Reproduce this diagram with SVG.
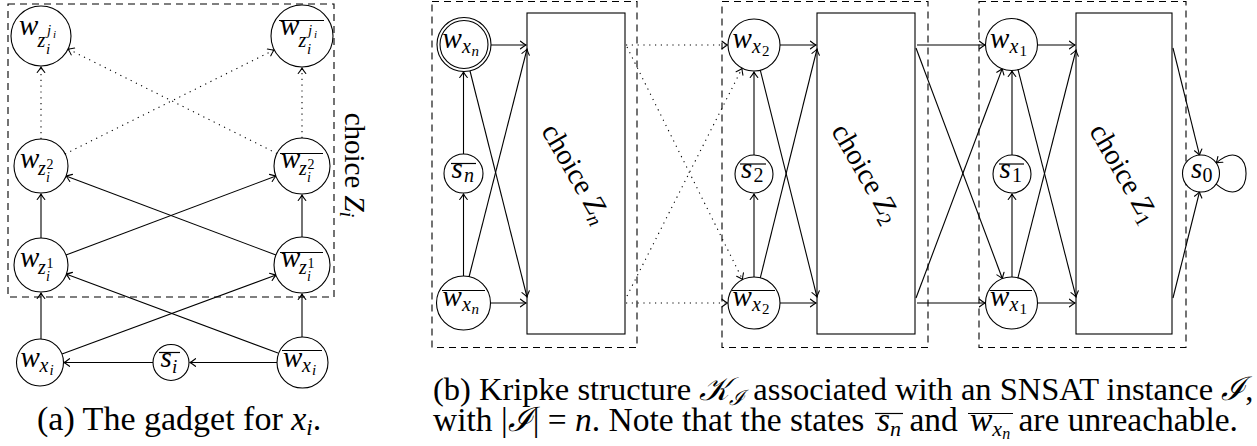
<svg xmlns="http://www.w3.org/2000/svg" width="1257" height="446" viewBox="0 0 1257 446">
<style>
.nd { fill: #fff; stroke: #000; stroke-width: 1.1; }
.rc { fill: #fff; stroke: #000; stroke-width: 1.1; }
.box { fill: none; stroke: #000; stroke-width: 1.1; stroke-dasharray: 7 5; }
.e { fill: none; stroke: #000; stroke-width: 1.1; marker-end: url(#ah); }
.d { stroke-dasharray: 1.2 4.6; }
.ol { stroke: #000; stroke-width: 1.2; }
</style>
<defs>
<marker id="ah" markerUnits="userSpaceOnUse" markerWidth="9" markerHeight="12" viewBox="-7 -6 9 12" refX="0" refY="0" orient="auto">
<path d="M-5.5,-3.8 Q-2,-1 0,0 Q-2,1 -5.5,3.8" fill="none" stroke="#000" stroke-width="1.1" stroke-linecap="round"/>
</marker>
</defs>

<rect class="box" x="8" y="4" width="326" height="293"/>
<g id="connectors-a">
<line class="e" x1="41" y1="339" x2="41" y2="293"/>
<line class="e" x1="302" y1="337" x2="302" y2="294"/>
<line class="e" x1="62" y1="354" x2="276" y2="275"/>
<line class="e" x1="278" y1="353" x2="66" y2="274"/>
<line class="e" x1="277" y1="362.5" x2="190" y2="362.5"/>
<line class="e" x1="153" y1="362.5" x2="64" y2="362.5"/>
<line class="e" x1="41" y1="238" x2="41" y2="194"/>
<line class="e" x1="302" y1="237" x2="302" y2="195"/>
<line class="e" x1="66" y1="255" x2="276" y2="176"/>
<line class="e" x1="276" y1="255" x2="66" y2="176"/>
<line class="e d" x1="41" y1="139" x2="41" y2="67"/>
<line class="e d" x1="302" y1="138" x2="302" y2="68"/>
<line class="e d" x1="65" y1="154" x2="274" y2="50"/>
<line class="e d" x1="277" y1="153.5" x2="68" y2="49"/>
</g>
<g id="a-wzj">
<circle class="nd" cx="41" cy="36" r="30"/>
<text style="font-family:'Liberation Serif',serif;font-style:italic;font-size:29px" x="19" y="35">w</text>
<text style="font-family:'Liberation Serif',serif;font-style:italic;font-size:20px" x="37.5" y="47">z</text>
<text style="font-family:'Liberation Serif',serif;font-style:italic;font-size:15px" x="47" y="35">j</text>
<text style="font-family:'Liberation Serif',serif;font-style:italic;font-size:11px" x="53" y="38">i</text>
<text style="font-family:'Liberation Serif',serif;font-style:italic;font-size:15px" x="46" y="54">i</text>
</g>
<g id="a-wzj-bar">
<circle class="nd" cx="302" cy="36" r="31"/>
<line class="ol" x1="279" y1="20.5" x2="324" y2="20.5"/>
<text style="font-family:'Liberation Serif',serif;font-style:italic;font-size:29px" x="280" y="35">w</text>
<text style="font-family:'Liberation Serif',serif;font-style:italic;font-size:20px" x="298.5" y="47">z</text>
<text style="font-family:'Liberation Serif',serif;font-style:italic;font-size:15px" x="308" y="35">j</text>
<text style="font-family:'Liberation Serif',serif;font-style:italic;font-size:11px" x="314" y="38">i</text>
<text style="font-family:'Liberation Serif',serif;font-style:italic;font-size:15px" x="307" y="54">i</text>
</g>
<g id="a-wz2">
<circle class="nd" cx="41" cy="166" r="27"/>
<text style="font-family:'Liberation Serif',serif;font-style:italic;font-size:29px" x="20" y="168">w</text>
<text style="font-family:'Liberation Serif',serif;font-style:italic;font-size:20px" x="38" y="175">z</text>
<text style="font-family:'Liberation Serif',serif;font-size:14px" x="46.5" y="169">2</text>
<text style="font-family:'Liberation Serif',serif;font-style:italic;font-size:14px" x="46" y="182">i</text>
</g>
<g id="a-wz2-bar">
<circle class="nd" cx="302" cy="166" r="28"/>
<line class="ol" x1="280" y1="153.5" x2="323" y2="153.5"/>
<text style="font-family:'Liberation Serif',serif;font-style:italic;font-size:29px" x="281" y="168">w</text>
<text style="font-family:'Liberation Serif',serif;font-style:italic;font-size:20px" x="299" y="175">z</text>
<text style="font-family:'Liberation Serif',serif;font-size:14px" x="307.5" y="169">2</text>
<text style="font-family:'Liberation Serif',serif;font-style:italic;font-size:14px" x="307" y="182">i</text>
</g>
<g id="a-wz1">
<circle class="nd" cx="41" cy="265" r="27"/>
<text style="font-family:'Liberation Serif',serif;font-style:italic;font-size:29px" x="20" y="267">w</text>
<text style="font-family:'Liberation Serif',serif;font-style:italic;font-size:20px" x="38" y="274">z</text>
<text style="font-family:'Liberation Serif',serif;font-size:14px" x="46.5" y="268">1</text>
<text style="font-family:'Liberation Serif',serif;font-style:italic;font-size:14px" x="46" y="281">i</text>
</g>
<g id="a-wz1-bar">
<circle class="nd" cx="302" cy="265" r="28"/>
<line class="ol" x1="280" y1="252.5" x2="323" y2="252.5"/>
<text style="font-family:'Liberation Serif',serif;font-style:italic;font-size:29px" x="281" y="267">w</text>
<text style="font-family:'Liberation Serif',serif;font-style:italic;font-size:20px" x="299" y="274">z</text>
<text style="font-family:'Liberation Serif',serif;font-size:14px" x="307.5" y="268">1</text>
<text style="font-family:'Liberation Serif',serif;font-style:italic;font-size:14px" x="307" y="281">i</text>
</g>
<g id="a-wx">
<circle class="nd" cx="40" cy="362.5" r="23.5"/>
<text style="font-family:'Liberation Serif',serif;font-style:italic;font-size:29px" x="20.5" y="367">w</text>
<text style="font-family:'Liberation Serif',serif;font-style:italic;font-size:20px" x="39.5" y="372">x</text>
<text style="font-family:'Liberation Serif',serif;font-style:italic;font-size:15px" x="49.5" y="375">i</text>
</g>
<g id="a-wx-bar">
<circle class="nd" cx="302.5" cy="362.5" r="25.5"/>
<line class="ol" x1="282" y1="350.5" x2="322" y2="350.5"/>
<text style="font-family:'Liberation Serif',serif;font-style:italic;font-size:29px" x="283" y="367">w</text>
<text style="font-family:'Liberation Serif',serif;font-style:italic;font-size:20px" x="302" y="372">x</text>
<text style="font-family:'Liberation Serif',serif;font-style:italic;font-size:15px" x="312" y="375">i</text>
</g>
<g id="a-s">
<circle class="nd" cx="171" cy="362.5" r="18"/>
<line class="ol" x1="159" y1="352.5" x2="180" y2="352.5"/>
<text style="font-family:'Liberation Serif',serif;font-style:italic;font-size:29px" x="160.5" y="367">s</text>
<text style="font-family:'Liberation Serif',serif;font-style:italic;font-size:19px" x="172" y="373">i</text>
</g>
<text id="a-choice" style="font-family:'Liberation Serif',serif;font-size:29px" transform="translate(345,165) rotate(90)" text-anchor="middle">choice <tspan style="font-style:italic">Z</tspan><tspan style="font-style:italic;font-size:20px" dy="5">i</tspan></text>
<text id="cap-a" style="font-family:'Liberation Serif',serif;font-size:34px" x="37" y="430">(a) The gadget for <tspan style="font-style:italic">x</tspan><tspan style="font-style:italic;font-size:23px" dy="5">i</tspan><tspan dy="-5">.</tspan></text>

<rect class="box" x="432" y="1.5" width="205" height="346"/>
<rect class="box" x="722" y="1.5" width="206" height="346"/>
<rect class="box" x="979" y="1.5" width="207" height="346"/>

<g id="rect-zn"><rect class="rc" x="527" y="13" width="98" height="321"/>
<text style="font-family:'Liberation Serif',serif;font-size:29px" transform="translate(568,178) rotate(60)" text-anchor="middle">choice <tspan style="font-style:italic">Z</tspan><tspan style="font-style:italic;font-size:20px" dy="5">n</tspan></text></g>
<g id="rect-z2"><rect class="rc" x="817" y="13" width="98" height="321"/>
<text style="font-family:'Liberation Serif',serif;font-size:29px" transform="translate(858,178) rotate(60)" text-anchor="middle">choice <tspan style="font-style:italic">Z</tspan><tspan style="font-size:20px" dy="5">2</tspan></text></g>
<g id="rect-z1"><rect class="rc" x="1076" y="13" width="96" height="321"/>
<text style="font-family:'Liberation Serif',serif;font-size:29px" transform="translate(1116,178) rotate(60)" text-anchor="middle">choice <tspan style="font-style:italic">Z</tspan><tspan style="font-size:20px" dy="5">1</tspan></text></g>

<g id="connectors-b">
<line class="e" x1="491" y1="45" x2="526" y2="45"/>
<line class="e" x1="490.5" y1="303" x2="526" y2="303"/>
<line class="e" x1="470" y1="71" x2="527" y2="297"/>
<line class="e" x1="469" y1="277" x2="527" y2="49"/>
<line class="e" x1="463.5" y1="276" x2="463.5" y2="194"/>
<line class="e" x1="463.5" y1="154" x2="463.5" y2="72"/>
<line class="e d" x1="626" y1="45" x2="727.5" y2="45"/>
<line class="e d" x1="627" y1="47" x2="742.5" y2="279.5"/>
<line class="e d" x1="627" y1="296" x2="742" y2="68.5"/>
<line class="e d" x1="626" y1="303" x2="727.5" y2="303"/>
<line class="e" x1="780" y1="45" x2="816" y2="45"/>
<line class="e" x1="780" y1="303" x2="816" y2="303"/>
<line class="e" x1="760.3" y1="70.2" x2="817" y2="297"/>
<line class="e" x1="760.3" y1="277.8" x2="817" y2="49"/>
<line class="e" x1="754" y1="277" x2="754" y2="194"/>
<line class="e" x1="754" y1="155" x2="754" y2="72"/>
<line class="e" x1="917" y1="45" x2="985" y2="45"/>
<line class="e" x1="916" y1="48" x2="1002.4" y2="278.7"/>
<line class="e" x1="916" y1="298" x2="1002.3" y2="68.5"/>
<line class="e" x1="917" y1="303" x2="985" y2="303"/>
<line class="e" x1="1037.5" y1="45" x2="1075" y2="45"/>
<line class="e" x1="1037.5" y1="303" x2="1075" y2="303"/>
<line class="e" x1="1017.9" y1="69.2" x2="1076" y2="297"/>
<line class="e" x1="1017.9" y1="277.8" x2="1076" y2="50"/>
<line class="e" x1="1012" y1="277" x2="1012" y2="194"/>
<line class="e" x1="1012" y1="155" x2="1012" y2="71"/>
<line class="e" x1="1173" y1="48" x2="1199.5" y2="155.2"/>
<line class="e" x1="1173" y1="298" x2="1199.5" y2="191.8"/>
<path class="e" d="M1216.2,184.1 C1256,218 1256,129 1216.2,162.9"/>
</g>

<g id="b-wxn">
<circle class="nd" cx="464" cy="44.5" r="27"/>
<circle class="nd" cx="464" cy="44.5" r="24"/>
<text style="font-family:'Liberation Serif',serif;font-style:italic;font-size:29px" x="442.5" y="48">w</text>
<text style="font-family:'Liberation Serif',serif;font-style:italic;font-size:20px" x="462" y="53">x</text>
<text style="font-family:'Liberation Serif',serif;font-style:italic;font-size:15px" x="471.5" y="56">n</text>
</g>
<g id="b-sn">
<circle class="nd" cx="463.5" cy="173.5" r="19.5"/>
<line class="ol" x1="451" y1="163.5" x2="476" y2="163.5"/>
<text style="font-family:'Liberation Serif',serif;font-style:italic;font-size:29px" x="451.5" y="178">s</text>
<text style="font-family:'Liberation Serif',serif;font-style:italic;font-size:20px" x="464" y="182">n</text>
</g>
<g id="b-wxn-bar">
<circle class="nd" cx="463.5" cy="303" r="27"/>
<line class="ol" x1="442" y1="290.5" x2="485" y2="290.5"/>
<text style="font-family:'Liberation Serif',serif;font-style:italic;font-size:29px" x="442.5" y="306">w</text>
<text style="font-family:'Liberation Serif',serif;font-style:italic;font-size:20px" x="462" y="311">x</text>
<text style="font-family:'Liberation Serif',serif;font-style:italic;font-size:15px" x="471.5" y="314">n</text>
</g>
<g id="b-wx2">
<circle class="nd" cx="754" cy="45" r="26"/>
<text style="font-family:'Liberation Serif',serif;font-style:italic;font-size:29px" x="732.5" y="48">w</text>
<text style="font-family:'Liberation Serif',serif;font-style:italic;font-size:20px" x="752" y="53">x</text>
<text style="font-family:'Liberation Serif',serif;font-size:15px" x="762" y="56">2</text>
</g>
<g id="b-s2">
<circle class="nd" cx="754" cy="174" r="19"/>
<line class="ol" x1="740" y1="164" x2="766" y2="164"/>
<text style="font-family:'Liberation Serif',serif;font-style:italic;font-size:29px" x="741" y="178">s</text>
<text style="font-family:'Liberation Serif',serif;font-size:20px" x="753.5" y="182">2</text>
</g>
<g id="b-wx2-bar">
<circle class="nd" cx="754" cy="303" r="26"/>
<line class="ol" x1="732" y1="290.5" x2="775" y2="290.5"/>
<text style="font-family:'Liberation Serif',serif;font-style:italic;font-size:29px" x="732.5" y="306">w</text>
<text style="font-family:'Liberation Serif',serif;font-style:italic;font-size:20px" x="752" y="311">x</text>
<text style="font-family:'Liberation Serif',serif;font-size:15px" x="762" y="314">2</text>
</g>
<g id="b-wx1">
<circle class="nd" cx="1011.5" cy="44.5" r="26"/>
<text style="font-family:'Liberation Serif',serif;font-style:italic;font-size:29px" x="990" y="48">w</text>
<text style="font-family:'Liberation Serif',serif;font-style:italic;font-size:20px" x="1009.5" y="53">x</text>
<text style="font-family:'Liberation Serif',serif;font-size:15px" x="1019.5" y="56">1</text>
</g>
<g id="b-s1">
<circle class="nd" cx="1012" cy="174" r="19"/>
<line class="ol" x1="999" y1="164" x2="1024" y2="164"/>
<text style="font-family:'Liberation Serif',serif;font-style:italic;font-size:29px" x="999.5" y="178">s</text>
<text style="font-family:'Liberation Serif',serif;font-size:20px" x="1012" y="182">1</text>
</g>
<g id="b-wx1-bar">
<circle class="nd" cx="1011.5" cy="303" r="26"/>
<line class="ol" x1="989.5" y1="290.5" x2="1032" y2="290.5"/>
<text style="font-family:'Liberation Serif',serif;font-style:italic;font-size:29px" x="990" y="306">w</text>
<text style="font-family:'Liberation Serif',serif;font-style:italic;font-size:20px" x="1009.5" y="311">x</text>
<text style="font-family:'Liberation Serif',serif;font-size:15px" x="1019.5" y="314">1</text>
</g>
<g id="b-s0">
<circle class="nd" cx="1201" cy="173.5" r="18.5"/>
<text style="font-family:'Liberation Serif',serif;font-style:italic;font-size:29px" x="1191" y="178">s</text>
<text style="font-family:'Liberation Serif',serif;font-size:20px" x="1202.5" y="182">0</text>
</g>

<g id="cap-b">
<text style="font-family:'Liberation Serif',serif;font-size:32.5px" x="433" y="400">(b) Kripke structure <tspan style="font-style:italic">𝒦</tspan><tspan style="font-style:italic;font-size:21px" dy="5">ℐ</tspan><tspan dy="-5"> associated with an SNSAT instance </tspan><tspan style="font-style:italic">ℐ</tspan>,</text>
<text style="font-family:'Liberation Serif',serif;font-size:33.5px" x="433" y="431">with |<tspan style="font-style:italic">ℐ</tspan>| = <tspan style="font-style:italic">n</tspan>. Note that the states <tspan style="font-style:italic" x="877">s</tspan><tspan style="font-style:italic;font-size:22px" dy="5">n</tspan><tspan dy="-5"> and </tspan><tspan style="font-style:italic" x="970">w</tspan><tspan style="font-style:italic;font-size:22px" dy="5">x</tspan><tspan style="font-style:italic;font-size:16px" dy="3">n</tspan><tspan dy="-8"> are unreachable.</tspan></text>
<line class="ol" x1="875" y1="413.5" x2="903" y2="413.5"/>
<line class="ol" x1="968" y1="413.5" x2="1013" y2="413.5"/>
</g>
</svg>
